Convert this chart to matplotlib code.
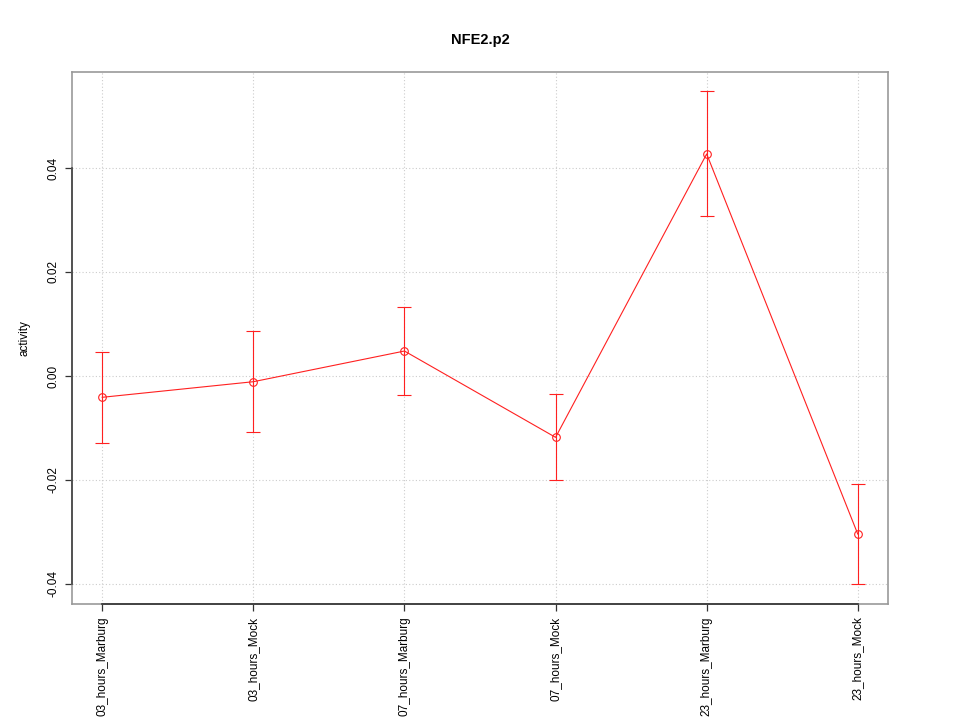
import matplotlib
matplotlib.use("Agg")
import matplotlib.pyplot as plt
import numpy as np

categories = ["03_hours_Marburg", "03_hours_Mock", "07_hours_Marburg",
              "07_hours_Mock", "23_hours_Marburg", "23_hours_Mock"]
activity = [-0.0041, -0.0011, 0.0048, -0.0118, 0.0427, -0.0304]
err_low = [-0.0129, -0.0108, -0.0037, -0.0200, 0.0308, -0.0400]
err_high = [0.0047, 0.0086, 0.0132, -0.0035, 0.0549, -0.0208]
yticks = [-0.04, -0.02, 0.00, 0.02, 0.04]
ytick_labels = ["-0.04", "-0.02", "0.00", "0.02", "0.04"]

plt.rcParams['font.family'] = ['Liberation Sans', 'DejaVu Sans']

fig = plt.figure(figsize=(9.6, 7.2), dpi=100)
ax = fig.add_axes([0.075, 0.1611, 0.85, 0.7389])

x = np.arange(1, len(categories) + 1)
y = np.array(activity)
lo = y - np.array(err_low)
hi = np.array(err_high) - y

ax.set_xlim(0.8, 6.2)
ax.set_ylim(-0.04385, 0.05846)

# grid
for t in x:
    ax.axvline(t, color='#cccccc', lw=0.8, ls=(0, (1, 2)), zorder=0)
for t in yticks:
    ax.axhline(t, color='#cccccc', lw=0.8, ls=(0, (1, 2)), zorder=0)

red = '#ff2020'
ax.errorbar(x, y, yerr=[lo, hi], fmt='none', ecolor=red, elinewidth=0.8,
            capsize=7 * 0.72, capthick=0.8, zorder=3)
ax.plot(x, y, color=red, lw=0.8, marker='o', ms=5.5, mfc='none',
        mec=red, mew=0.8, zorder=4)

ax.set_xticks(x)
ax.set_xticklabels(categories, rotation=90, va='top', ha='center', fontsize=8.5)
ax.set_yticks(yticks)
ax.set_yticklabels(ytick_labels, rotation=90, fontsize=8.5)
for lab in ax.get_yticklabels():
    lab.set_rotation_mode('anchor')
    lab.set_ha('center')
    lab.set_va('bottom')
ax.tick_params(axis='both', direction='out', length=5, width=0.9, color='#333333')
ax.tick_params(axis='x', pad=4)
ax.tick_params(axis='y', pad=4)

for s in ax.spines.values():
    s.set_color('#999999')
    s.set_linewidth(1.2)

# axis lines over tick range (R style)
ax.plot([x[0], x[-1]], [-0.04385, -0.04385], color='#333333', lw=1.2,
        clip_on=False, zorder=5)
ax.plot([0.8, 0.8], [yticks[0], yticks[-1]], color='#444444', lw=1.2,
        clip_on=False, zorder=5)

ax.set_ylabel('activity', fontsize=8.5, labelpad=12)
ax.set_title('NFE2.p2', fontsize=10.5, fontweight='bold', pad=20)

fig.savefig('out.png', dpi=100)
